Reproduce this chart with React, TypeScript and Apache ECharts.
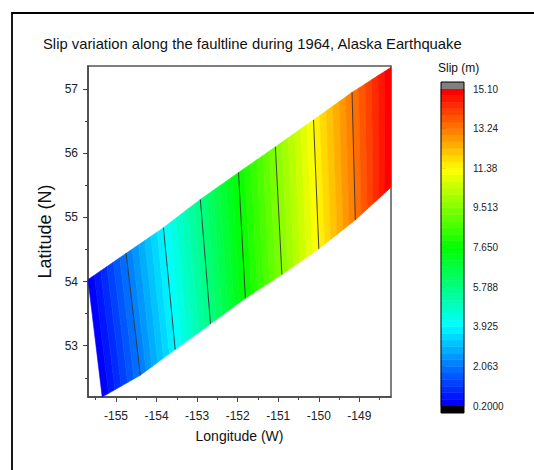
import React, { useEffect, useRef } from "react";
import * as echarts from "echarts";

// Axis ticks
const xTicks = [-155, -154, -153, -152, -151, -150, -149];
const xMinorTicks = [-155.5, -154.5, -153.5, -152.5, -151.5, -150.5, -149.5, -148.5];
const yTicks = [53, 54, 55, 56, 57];
const yMinorTicks = [52.5, 53.5, 54.5, 55.5, 56.5];
const xRange = [-155.69, -148.22];
const yRange = [52.2, 57.36];

// Fault segment boundaries (contour lines), top and bottom end points
const lonTop = [-155.69, -154.75, -153.83, -152.92, -151.98, -151.07, -150.13, -149.18, -148.22];
const latTop = [54.03, 54.44, 54.84, 55.28, 55.7, 56.1, 56.52, 56.95, 57.34];
const lonBottom = [-155.34, -154.4, -153.54, -152.67, -151.81, -150.91, -150.0, -149.1, -148.22];
const latBottom = [52.2, 52.54, 52.94, 53.34, 53.74, 54.11, 54.51, 54.96, 55.47];
// Slip (m) at each boundary
const boundarySlip = [0.2, 2.0625, 3.925, 5.7875, 7.65, 9.5125, 11.375, 13.2375, 15.1];

// Colour scale
const slipLevels = [0.2, 2.0625, 3.925, 5.7875, 7.65, 9.5125, 11.375, 13.2375, 15.1];
const slipLabels = ["0.2000", "2.063", "3.925", "5.788", "7.650", "9.513", "11.38", "13.24", "15.10"];
const subBands = 6;

function rainbow(t: number): string {
  const stops = [
    [0, 0, 255],
    [0, 255, 255],
    [0, 255, 0],
    [255, 255, 0],
    [255, 0, 0],
  ];
  const p = Math.max(0, Math.min(1, t)) * 4;
  const i = Math.min(3, Math.floor(p));
  const f = p - i;
  const a = stops[i];
  const b = stops[i + 1];
  const c = a.map((v, k) => Math.round(v + (b[k] - v) * f));
  return `rgb(${c[0]},${c[1]},${c[2]})`;
}

const sMin = slipLevels[0];
const sMax = slipLevels[slipLevels.length - 1];
const nBands = (slipLevels.length - 1) * subBands;
const bandStep = (sMax - sMin) / nBands;

const lerp = (a: number, b: number, t: number) => a + (b - a) * t;

export default function App() {
  const ref = useRef<HTMLDivElement>(null);
  useEffect(() => {
    if (!ref.current) return;
    const chart = echarts.init(ref.current, null, { renderer: "svg" });
    const font = "Liberation Sans, Arial, sans-serif";
    const segData = boundarySlip.slice(0, -1).map((_, i) => [lonTop[i], latTop[i], i]);
    const lineData = boundarySlip.slice(1, -1).map((_, i) => [lonTop[i + 1], latTop[i + 1], i + 1]);

    const option: any = {
      animation: false,
      textStyle: { fontFamily: font },
      title: {
        text: "Slip variation along the faultline during 1964, Alaska Earthquake",
        left: 38,
        top: 31,
        textStyle: { fontSize: 14.8, fontWeight: "normal", color: "#111", fontFamily: font },
      },
      graphic: [
        {
          type: "rect",
          shape: { x: 12, y: 13, width: 700, height: 700 },
          style: { fill: "none", stroke: "#000", lineWidth: 1.8 },
          silent: true,
        },
        {
          type: "text",
          x: 438,
          y: 62,
          style: { text: "Slip (m)", fontSize: 12, fill: "#111", fontFamily: font },
        },
      ],
      grid: [
        { left: 88, top: 66, width: 303, height: 331, show: true, borderColor: "#555", borderWidth: 1.5, backgroundColor: "transparent" },
        { left: 441, top: 89, width: 23, height: 317 },
      ],
      xAxis: [
        {
          type: "value",
          gridIndex: 0,
          position: "bottom",
          min: xRange[0],
          max: xRange[1],
          splitLine: { show: false },
          axisLine: { onZero: false, lineStyle: { color: "#444", width: 1.5 } },
          axisTick: { customValues: xTicks, length: 5, lineStyle: { color: "#444" } },
          axisLabel: { customValues: xTicks, fontSize: 12, color: "#222", margin: 13 },
          name: "Longitude (W)",
          nameLocation: "middle",
          nameGap: 32,
          nameTextStyle: { fontSize: 14, color: "#111" },
        },
        {
          type: "value",
          gridIndex: 0,
          position: "bottom",
          min: xRange[0],
          max: xRange[1],
          splitLine: { show: false },
          axisLine: { show: false, onZero: false },
          axisTick: { customValues: xMinorTicks, length: 3, lineStyle: { color: "#444" } },
          axisLabel: { show: false },
        },
        { type: "value", gridIndex: 1, min: 0, max: 1, show: false },
      ],
      yAxis: [
        {
          type: "value",
          gridIndex: 0,
          position: "left",
          min: yRange[0],
          max: yRange[1],
          splitLine: { show: false },
          axisLine: { onZero: false, lineStyle: { color: "#444", width: 1.5 } },
          axisTick: { customValues: yTicks, length: 5, lineStyle: { color: "#444" } },
          axisLabel: { customValues: yTicks, fontSize: 12, color: "#222", margin: 10 },
          name: "Latitude (N)",
          nameLocation: "middle",
          nameGap: 26,
          nameRotate: 90,
          nameTextStyle: { fontSize: 18, color: "#111" },
        },
        {
          type: "value",
          gridIndex: 0,
          position: "left",
          min: yRange[0],
          max: yRange[1],
          splitLine: { show: false },
          axisLine: { show: false, onZero: false },
          axisTick: { customValues: yMinorTicks, length: 3, lineStyle: { color: "#444" } },
          axisLabel: { show: false },
        },
        {
          type: "value",
          gridIndex: 1,
          position: "right",
          min: sMin,
          max: sMax,
          splitLine: { show: false },
          axisLine: { show: false },
          axisTick: { customValues: slipLevels, length: 5, lineStyle: { color: "#333" } },
          axisLabel: {
            customValues: slipLevels,
            fontSize: 10,
            color: "#222",
            margin: 9,
            formatter: (v: number) => {
              let best = 0;
              slipLevels.forEach((l, k) => {
                if (Math.abs(l - v) < Math.abs(slipLevels[best] - v)) best = k;
              });
              return slipLabels[best];
            },
          },
        },
      ],
      series: [
        {
          type: "custom",
          xAxisIndex: 0,
          yAxisIndex: 0,
          data: segData,
          renderItem: (params: any, api: any) => {
            const i = params.dataIndex;
            const s0 = boundarySlip[i];
            const s1 = boundarySlip[i + 1];
            const children: any[] = [];
            const pt = (t: number, top: boolean) =>
              top
                ? api.coord([lerp(lonTop[i], lonTop[i + 1], t), lerp(latTop[i], latTop[i + 1], t)])
                : api.coord([lerp(lonBottom[i], lonBottom[i + 1], t), lerp(latBottom[i], latBottom[i + 1], t)]);
            for (let g = 0; g < nBands; g++) {
              const lo = sMin + g * bandStep;
              const hi = lo + bandStep;
              const a = Math.max(lo, s0);
              const b = Math.min(hi, s1);
              if (b - a < 1e-6) continue;
              const ta = (a - s0) / (s1 - s0);
              const tb = (b - s0) / (s1 - s0);
              const col = rainbow(g / (nBands - 1));
              children.push({
                type: "polygon",
                shape: { points: [pt(ta, true), pt(tb, true), pt(tb, false), pt(ta, false)] },
                style: { fill: col, stroke: col, lineWidth: 0.6 },
              });
            }
            return { type: "group", children };
          },
        },
        {
          type: "custom",
          xAxisIndex: 0,
          yAxisIndex: 0,
          data: lineData,
          z: 5,
          renderItem: (params: any, api: any) => {
            const j = params.dataIndex + 1;
            const p1 = api.coord([lonTop[j], latTop[j]]);
            const p2 = api.coord([lonBottom[j], latBottom[j]]);
            return {
              type: "line",
              shape: { x1: p1[0], y1: p1[1], x2: p2[0], y2: p2[1] },
              style: { stroke: "#333", lineWidth: 0.9 },
            };
          },
        },
        {
          type: "custom",
          xAxisIndex: 2,
          yAxisIndex: 2,
          data: [[0, sMin]],
          renderItem: (params: any, api: any) => {
            const children: any[] = [];
            for (let g = 0; g < nBands; g++) {
              const lo = sMin + g * bandStep;
              const hi = lo + bandStep;
              const p1 = api.coord([0, hi]);
              const p2 = api.coord([1, lo]);
              const col = rainbow(g / (nBands - 1));
              children.push({
                type: "rect",
                shape: { x: p1[0], y: p1[1], width: p2[0] - p1[0], height: p2[1] - p1[1] },
                style: { fill: col, stroke: col, lineWidth: 0.5 },
              });
            }
            const top = api.coord([0, sMax]);
            const bot = api.coord([1, sMin]);
            const w = bot[0] - top[0];
            children.push({
              type: "rect",
              shape: { x: top[0], y: top[1] - 7, width: w, height: 7 },
              style: { fill: "#808080" },
            });
            children.push({
              type: "rect",
              shape: { x: top[0], y: bot[1], width: w, height: 7 },
              style: { fill: "#000" },
            });
            children.push({
              type: "rect",
              shape: { x: top[0], y: top[1] - 7, width: w, height: bot[1] - top[1] + 14 },
              style: { fill: "none", stroke: "#000", lineWidth: 1 },
            });
            return { type: "group", children };
          },
        },
      ],
    };
    chart.setOption(option);
    return () => chart.dispose();
  }, []);
  return (
    <div
      ref={ref}
      style={{ position: "fixed", left: 0, top: 0, width: 534, height: 470, background: "#fff" }}
    />
  );
}
